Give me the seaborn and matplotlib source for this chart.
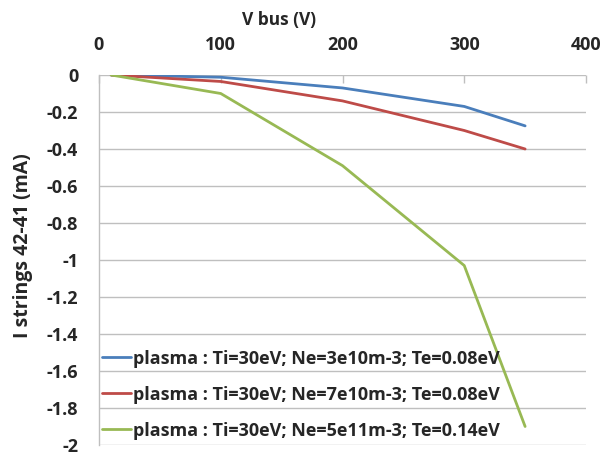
import matplotlib
matplotlib.use("Agg")
import matplotlib.pyplot as plt
import seaborn as sns
import pandas as pd
from matplotlib.ticker import FixedLocator, FuncFormatter

x_v = [10, 100, 200, 300, 350]
blue = [0, -0.012, -0.07, -0.17, -0.275]
red = [0, -0.035, -0.14, -0.30, -0.40]
green = [0, -0.10, -0.49, -1.03, -1.90]
labels = ["plasma : Ti=30eV; Ne=3e10m-3; Te=0.08eV",
          "plasma : Ti=30eV; Ne=7e10m-3; Te=0.08eV",
          "plasma : Ti=30eV; Ne=5e11m-3; Te=0.14eV"]
colors = ["#4a7ebb", "#be4b48", "#98b954"]
x_ticks = [0, 100, 200, 300, 400]
y_ticks = [0, -0.2, -0.4, -0.6, -0.8, -1, -1.2, -1.4, -1.6, -1.8, -2]

sns.set_theme(style="white")
plt.rcParams['font.family'] = ['Open Sans', 'DejaVu Sans']
plt.rcParams['font.weight'] = 'bold'

rows = []
for lab, ys in zip(labels, [blue, red, green]):
    for xv, yv in zip(x_v, ys):
        rows.append({"V": xv, "I": yv, "series": lab})
df = pd.DataFrame(rows)

FS = 13

fig = plt.figure(figsize=(6.06, 4.58), dpi=100)
ax = fig.add_axes([99/606, 1-445/458, (586-99)/606, (445-75)/458])
sns.lineplot(data=df, x="V", y="I", hue="series", palette=colors, ax=ax,
             linewidth=2.0, sort=False, estimator=None)
ax.set_xlim(0, 400)
ax.set_ylim(-2, 0)
ax.xaxis.set_major_locator(FixedLocator(x_ticks))
ax.yaxis.set_major_locator(FixedLocator(y_ticks))
ax.yaxis.set_major_formatter(FuncFormatter(lambda v, p: ("%g" % round(v, 1)) if v != 0 else "0"))
ax.xaxis.tick_top()
ax.xaxis.set_label_position("top")
ax.set_xlabel("V bus (V)", fontsize=12.5, fontweight='bold')
ax.set_ylabel("I strings 42-41 (mA)", fontsize=14, fontweight='bold')
ax.xaxis.set_label_coords(0.37, 1 + (75 - 20) / 370, transform=ax.transAxes)
ax.xaxis.label.set_va('center')
ax.yaxis.set_label_coords((23 - 99) / 487, (445 - 246) / 370, transform=ax.transAxes)
ax.yaxis.label.set_va('center')
ax.tick_params(axis='x', labelsize=FS, direction='in', length=6, color='#bfbfbf', pad=15, width=1)
ax.tick_params(axis='y', labelsize=FS, direction='out', length=6, color='#bfbfbf', pad=9, width=1)
for t in ax.get_xticklabels() + ax.get_yticklabels():
    t.set_fontweight('bold')
ax.grid(axis='y', color='#bfbfbf', linewidth=1)
ax.grid(axis='x', visible=False)
for s in ['right', 'bottom', 'top']:
    ax.spines[s].set_visible(False)
ax.spines['left'].set_color('#bfbfbf')
ax.spines['left'].set_linewidth(1)
ax.set_axisbelow(True)

leg = ax.legend(loc='lower left', bbox_to_anchor=(-0.02, -0.02), frameon=False,
                fontsize=FS, handlelength=1.6, handletextpad=0.15, labelspacing=1.0,
                borderaxespad=0.3)
for t in leg.get_texts():
    t.set_fontweight('bold')

fig.savefig("out.png", dpi=100)
